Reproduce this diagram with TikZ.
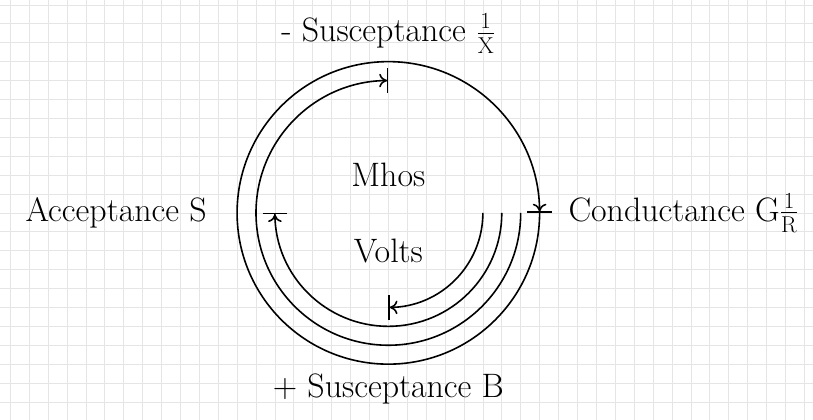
\documentclass[tikz,border=0pt]{standalone}
\usepackage{amsmath}
\usetikzlibrary{arrows.meta}

\begin{document}
\begin{tikzpicture}[font=\fontsize{25.5}{30}\selectfont,
  ring/.style={very thick,-{To[length=2mm,width=3.6mm]Bar[width=6.5mm]}},
  gridln/.style={draw=black!10,line width=0.5pt}]
  \useasboundingbox (-10.27,-5.46) rectangle (11.23,5.63);
  \begin{scope}
    \clip (-10.27,-5.46) rectangle (11.23,5.63);
    \draw[gridln,step=0.5] (-10.5,-6) grid (11.5,6);
  \end{scope}
  % rings, all starting on the right
  \foreach \r/\a [count=\i] in {2.5/-90,3/-180,3.5/-270,4/-360}{
    \coordinate (start\i) at (\r,0);
    \draw[ring] (start\i) arc[start angle=0,end angle=\a,radius=\r];
  }
  \node (mhos) at (0,1) {Mhos};
  \node (volts) at (0,-1) {Volts};
  \node[above] (minus) at (0,4.1) {- Susceptance $\frac{1}{\mathrm{X}}$};
  \node[below] (plus) at (0,-4.12) {+ Susceptance B};
  \node[left] (accept) at (-4.68,0) {Acceptance S};
  \node[right] (conduct) at (4.64,0) {Conductance G$\frac{1}{\mathrm{R}}$};
\end{tikzpicture}
\end{document}
